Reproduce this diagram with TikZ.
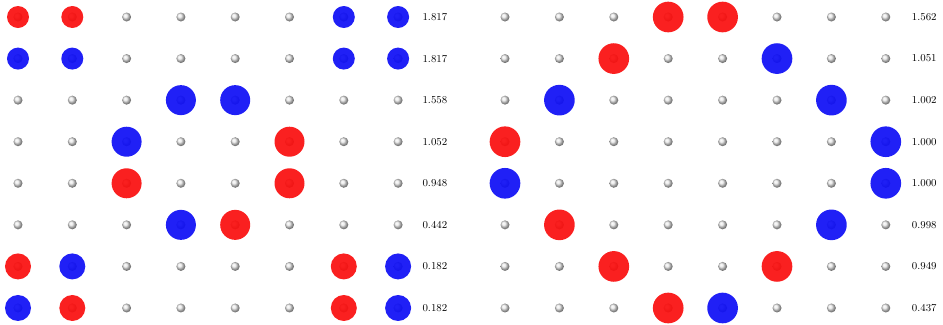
\documentclass[tikz,border=0pt]{standalone}
\usepackage{tikz}
\usetikzlibrary{positioning}
\definecolor{cUp}{RGB}{250,15,15}
\definecolor{cDn}{RGB}{15,15,245}
\tikzset{
	atom/.style  ={circle, ball color=gray!18, minimum size=0.27cm, inner sep=0pt},
	spin/.style  ={circle, minimum size=0.9cm, inner sep=0pt, fill opacity=0.93},
	spinup/.style={spin, fill=cUp},
	spindn/.style={spin, fill=cDn},
	val/.style   ={font=\small, inner sep=1pt},
}
\begin{document}
\begin{tikzpicture}[x=0.03cm, y=-0.03cm]
	\useasboundingbox (0,0) rectangle (943,324);
	% lattice sites, both panels
	\foreach \r in {1,...,8}{
		\foreach \c in {1,...,8}{
			\node[atom] (L-\r-\c) at ({18+54.3*(\c-1)}, {17+41.57*(\r-1)}) {};
			\node[atom] (R-\r-\c) at ({505+54.4*(\c-1)}, {17+41.57*(\r-1)}) {};
		}
	}
	% left panel amplitudes
	\foreach \r/\c/\s/\d in {1/1/spinup/0.66, 1/2/spinup/0.66, 1/7/spindn/0.66, 1/8/spindn/0.66,
			2/1/spindn/0.66, 2/2/spindn/0.66, 2/7/spindn/0.66, 2/8/spindn/0.66,
			3/4/spindn/0.9, 3/5/spindn/0.9,
			4/3/spindn/0.9, 4/6/spinup/0.9,
			5/3/spinup/0.9, 5/6/spinup/0.9,
			6/4/spindn/0.9, 6/5/spinup/0.9,
			7/1/spinup/0.78, 7/2/spindn/0.78, 7/7/spinup/0.78, 7/8/spindn/0.78,
			8/1/spindn/0.78, 8/2/spinup/0.78, 8/7/spinup/0.78, 8/8/spindn/0.78}
		\node[\s, minimum size=\d cm] (L-\r-\c-w) at (L-\r-\c) {};
	% right panel amplitudes
	\foreach \r/\c/\s in {1/4/spinup, 1/5/spinup, 2/3/spinup, 2/6/spindn,
			3/2/spindn, 3/7/spindn, 4/1/spinup, 4/8/spindn,
			5/1/spindn, 5/8/spindn, 6/2/spinup, 6/7/spindn,
			7/3/spinup, 7/6/spinup, 8/4/spinup, 8/5/spindn}
		\node[\s, minimum size=0.92cm] (R-\r-\c-w) at (R-\r-\c) {};
	% eigenvalues
	\foreach \r/\v in {1/1.817, 2/1.817, 3/1.558, 4/1.052, 5/0.948, 6/0.442, 7/0.182, 8/0.182}
		\node[val, right=0.55cm of L-\r-8] (Lv-\r) {\v};
	\foreach \r/\v in {1/1.562, 2/1.051, 3/1.002, 4/1.000, 5/1.000, 6/0.998, 7/0.949, 8/0.437}
		\node[val, right=0.6cm of R-\r-8] (Rv-\r) {\v};
\end{tikzpicture}
\end{document}
